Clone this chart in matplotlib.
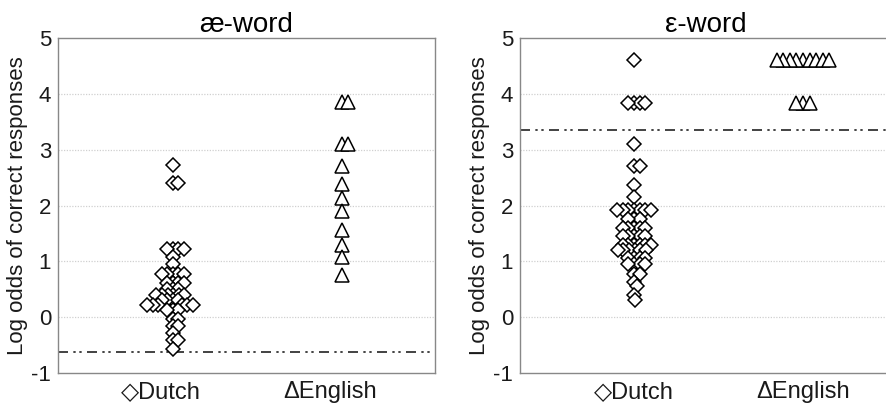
import numpy as np
import matplotlib.pyplot as plt

plt.rcParams['font.family'] = ['Liberation Sans', 'DejaVu Sans']

# panel titles and group labels
titles = ['æ-word', 'ε-word']
group_labels = ['◇Dutch', 'ΔEnglish']

# log odds of correct responses
ae_dutch = [2.72, 2.40, 2.40,
            1.22, 1.22, 1.22, 1.22, 1.08, 0.95,
            0.78, 0.78, 0.78, 0.78, 0.78,
            0.62, 0.62, 0.62, 0.62,
            0.50, 0.50, 0.50,
            0.40, 0.40, 0.40, 0.40, 0.40, 0.40,
            0.30, 0.30, 0.30, 0.30,
            0.22, 0.22, 0.22, 0.22, 0.22, 0.22,
            0.13, 0.13, 0.13,
            -0.03, -0.03, -0.15, -0.15, -0.28, -0.40, -0.40, -0.57]
ae_english = [3.85, 3.85, 3.10, 3.10, 2.70, 2.38, 2.13, 1.90, 1.57, 1.30, 1.08, 0.75]

eh_dutch = [4.60, 3.83, 3.83, 3.83, 3.83, 3.10, 2.70, 2.70, 2.37, 2.15,
            1.92, 1.92, 1.92, 1.92, 1.92, 1.92, 1.92,
            1.75, 1.75, 1.75,
            1.60, 1.60, 1.60, 1.60, 1.60,
            1.45, 1.45, 1.45, 1.45, 1.45,
            1.30, 1.30, 1.30, 1.30, 1.30, 1.30,
            1.20, 1.20, 1.20, 1.20, 1.20, 1.20,
            1.06, 1.06, 1.06, 1.06,
            0.95, 0.95, 0.95, 0.95,
            0.78, 0.78, 0.63, 0.55, 0.40, 0.30]
eh_english = [4.60] * 9 + [3.83] * 3

# dash-dot reference lines
criteria = [-0.62, 3.36]

yticks = [-1, 0, 1, 2, 3, 4, 5]
gridlines = [0, 1, 2, 3, 4]


def swarm(ax, values, center, d_px=6.8):
    # simple beeswarm in pixel space, returns x in data units
    bbox = ax.get_window_extent()
    x0, x1 = ax.get_xlim()
    y0, y1 = ax.get_ylim()
    kx = bbox.width / (x1 - x0)
    ky = bbox.height / (y1 - y0)
    placed = []
    xs = []
    for v in values:
        py = v * ky
        cands = [0.0]
        for px, qy in placed:
            dy = abs(py - qy)
            if dy < d_px:
                dx = np.sqrt(d_px ** 2 - dy ** 2)
                cands += [px + dx, px - dx]
        cands.sort(key=abs)
        for c in cands:
            if all((c - px) ** 2 + (py - qy) ** 2 >= d_px ** 2 - 1e-6 for px, qy in placed):
                break
        placed.append((c, py))
        xs.append(center + c / kx)
    return xs


fig = plt.figure(figsize=(8.86, 4.09), dpi=100)
ax1 = fig.add_axes([58 / 886, 36 / 409, 377 / 886, 335 / 409])
ax2 = fig.add_axes([520 / 886, 36 / 409, 372 / 886, 335 / 409])

panels = [(ax1, ae_dutch, ae_english, (0.391, 2.622), 0.07),
          (ax2, eh_dutch, eh_english, (0.325, 2.526), 0.0)]

for i, (ax, dutch, english, xl, shift) in enumerate(panels):
    ax.set_xlim(*xl)
    ax.set_ylim(-1, 5)
    for g in gridlines:
        ax.axhline(g, color='#d0d0d0', lw=0.9, ls=(0, (1, 1.2)), zorder=0)
    ln = ax.axhline(criteria[i], color='#222222', lw=1.2, zorder=1)
    ln.set_dashes((6, 3.2, 1.4, 2.2, 1.4, 3.2))

    xd = swarm(ax, dutch, 1 + shift, d_px=5.6)
    ax.plot(xd, dutch, ls='none', marker='D', ms=7, mfc='white', mec='black', mew=1.1, zorder=3)
    xe = swarm(ax, english, 2 + shift, d_px=6.6)
    ax.plot(xe, english, ls='none', marker='^', ms=9.4, mfc='white', mec='black', mew=1.1, zorder=3)

    ax.set_xticks([1, 2])
    ax.set_xticklabels(group_labels, fontsize=17)
    ax.set_yticks(yticks)
    ax.set_yticklabels([str(t) for t in yticks], fontsize=16)
    ax.tick_params(length=0, colors='#1a1a1a')
    ax.tick_params(axis='y', pad=5)
    ax.tick_params(axis='x', pad=6)
    for s in ax.spines.values():
        s.set_color('#888888')
        s.set_linewidth(1)
    ax.set_ylabel('Log odds of correct responses', fontsize=16, color='#1a1a1a', labelpad=2)
    ax.set_title(titles[i], fontsize=20, pad=4)

fig.savefig('out.png', dpi=100)
